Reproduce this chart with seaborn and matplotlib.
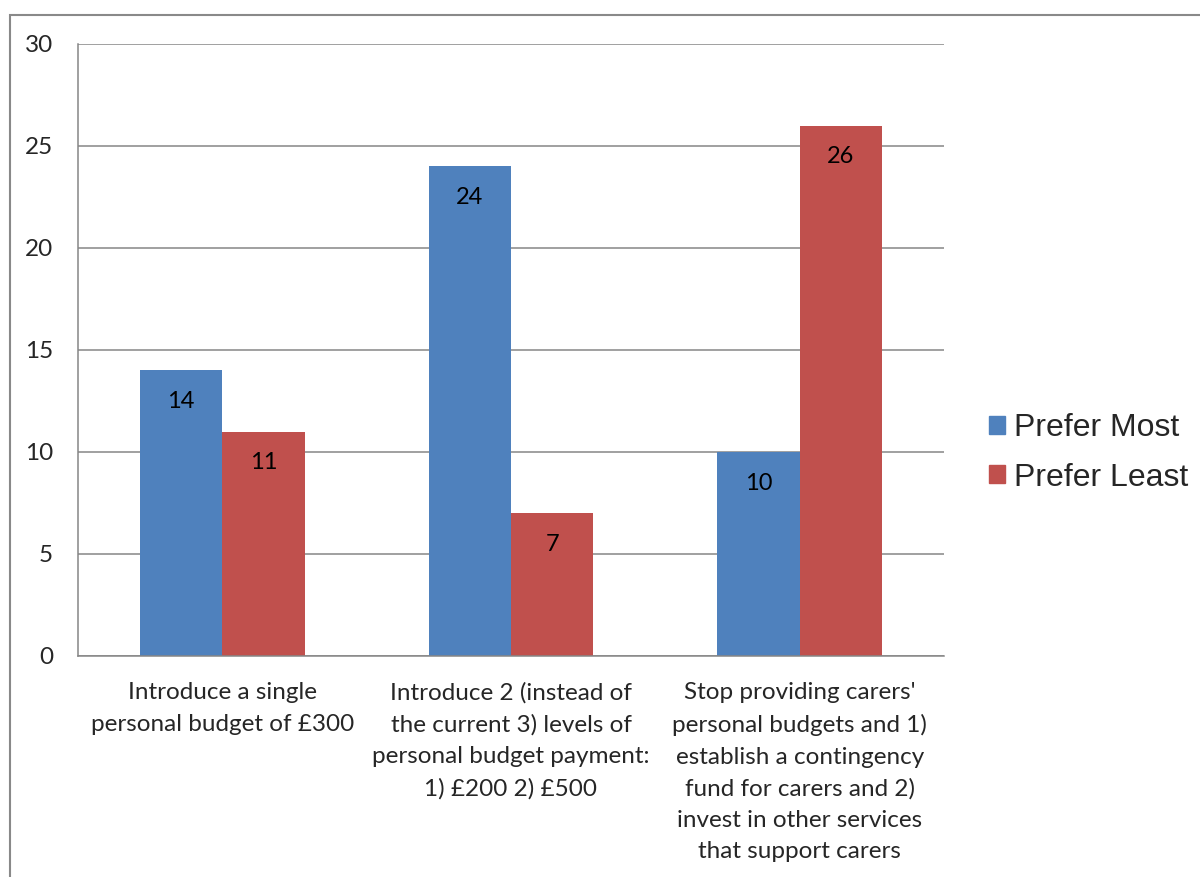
import pandas as pd
import matplotlib
matplotlib.use('Agg')
import matplotlib.pyplot as plt
import matplotlib.patches as mpatches
import seaborn as sns

# -----------------------------
# DATA
# -----------------------------

categories = [
    "Introduce a single\npersonal budget of £300",
    "Introduce 2 (instead of\nthe current 3) levels of\npersonal budget payment:\n1) £200 2) £500",
    "Stop providing carers'\npersonal budgets and 1)\nestablish a contingency\nfund for carers and 2)\ninvest in other services\nthat support carers",
]
series = ["Prefer Most", "Prefer Least"]
prefer_most = [14, 24, 10]
prefer_least = [11, 7, 26]
y_ticks = [0, 5, 10, 15, 20, 25, 30]

colors = {"Prefer Most": "#4F81BD", "Prefer Least": "#C0504D"}

df = pd.DataFrame({
    "option": categories * 2,
    "series": [series[0]] * 3 + [series[1]] * 3,
    "count": prefer_most + prefer_least,
})

# -----------------------------
# STYLE
# -----------------------------

sns.set_style('white')
plt.rcParams['font.family'] = ['Lato', 'DejaVu Sans']

fig = plt.figure(figsize=(12, 8.77), dpi=100)
ax = fig.add_axes([78 / 1200, 1 - 656 / 877, (944 - 78) / 1200, (656 - 44) / 877])

sns.barplot(
    data=df, x="option", y="count", hue="series",
    palette=colors, width=0.57, linewidth=0, saturation=1,
    ax=ax, legend=False,
)

# value labels inside the bars
for container in ax.containers:
    for bar in container:
        h = bar.get_height()
        ax.annotate(
            f"{h:.0f}",
            xy=(bar.get_x() + bar.get_width() / 2, h),
            xytext=(0, -31), textcoords='offset pixels',
            ha='center', va='center', fontsize=17, color='black',
        )

ax.set_ylim(0, 30)
ax.set_yticks(y_ticks)
ax.set_xlim(-0.5, 2.5)
ax.set_xlabel('')
ax.set_ylabel('')
ax.yaxis.grid(True, color='#868686', linewidth=1.1)
ax.set_axisbelow(True)

for side in ['top', 'right']:
    ax.spines[side].set_visible(False)
for side in ['left', 'bottom']:
    ax.spines[side].set_color('#868686')
    ax.spines[side].set_linewidth(1.1)

ax.tick_params(axis='y', length=0, pad=18, labelsize=17.5)
ax.tick_params(axis='x', length=0, pad=19, labelsize=17.5)
for lbl in ax.get_xticklabels():
    lbl.set_multialignment('center')
    lbl.set_linespacing(1.6)

# legend
handles = [mpatches.Patch(color=colors[s], label=s) for s in series]
fig.legend(
    handles=handles, loc='center left', bbox_to_anchor=(960 / 1200, 1 - 453 / 877),
    frameon=False, prop={'family': 'Liberation Sans', 'size': 23},
    handlelength=0.5, handleheight=0.5, handletextpad=0.3, labelspacing=0.6,
)

# outer chart border
fig.patches.append(mpatches.Rectangle(
    (10 / 1200, -0.1), 2, 1 - 15 / 877 + 0.1,
    transform=fig.transFigure, fill=False, edgecolor='#898989', linewidth=1.5,
))

plt.savefig('out.png', dpi=100)
plt.close()
